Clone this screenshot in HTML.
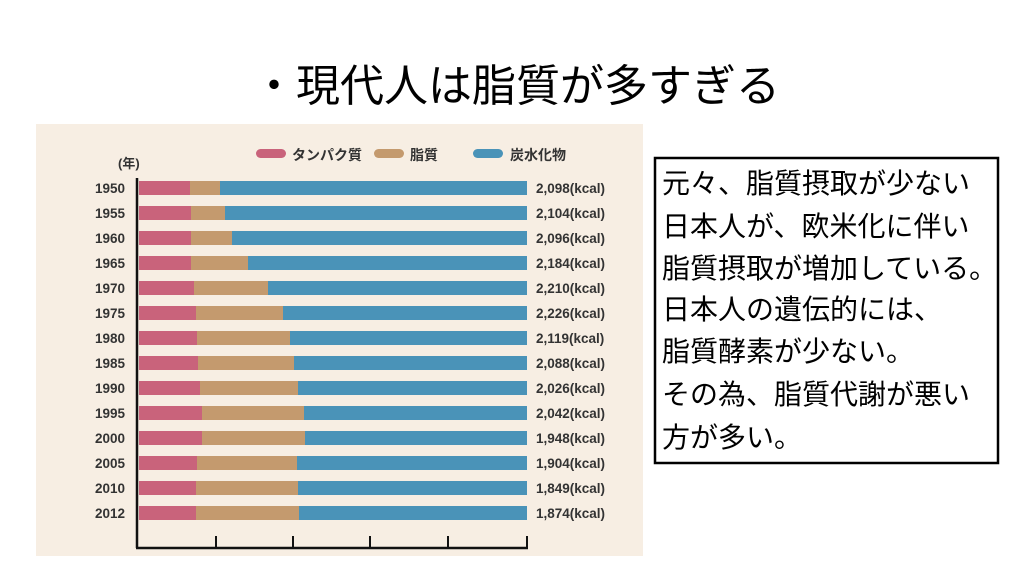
<!DOCTYPE html>
<html><head><meta charset="utf-8"><style>
body{margin:0;width:1024px;height:576px;background:#fff;overflow:hidden;font-family:"Liberation Sans","Noto Sans CJK JP",sans-serif}
</style></head><body>
<svg width="1024" height="576" xmlns="http://www.w3.org/2000/svg" style="position:absolute;left:0;top:0">
<text x="516" y="101" text-anchor="middle" font-size="44" font-family="Liberation Sans, Noto Sans CJK JP, sans-serif" fill="#000">・現代人は脂質が多すぎる</text>
<rect x="36" y="124" width="607" height="432" fill="#f7eee3"/>
<g font-family="Liberation Sans, Noto Sans CJK JP, sans-serif" font-weight="bold" fill="#333">
<rect x="256" y="149" width="30" height="9" rx="4.5" fill="#c9637b"/>
<text x="292" y="160" font-size="14">タンパク質</text>
<rect x="374" y="149" width="30" height="9" rx="4.5" fill="#c49a6e"/>
<text x="410" y="160" font-size="14">脂質</text>
<rect x="473" y="149" width="30" height="9" rx="4.5" fill="#4a93b8"/>
<text x="510" y="160" font-size="14">炭水化物</text>
<text x="118" y="168" font-size="13">(年)</text>
</g>
<g id="bars" font-family="Liberation Sans, sans-serif" font-weight="bold" font-size="13.5" fill="#333"></g>
<line x1="137" y1="178" x2="137" y2="548" stroke="#111" stroke-width="2.5"/>
<line x1="136" y1="548" x2="528" y2="548" stroke="#111" stroke-width="2.5"/>
<g stroke="#111" stroke-width="2">
<line x1="216" y1="536" x2="216" y2="548"/><line x1="293" y1="536" x2="293" y2="548"/>
<line x1="370" y1="536" x2="370" y2="548"/><line x1="448" y1="536" x2="448" y2="548"/>
<line x1="527" y1="536" x2="527" y2="548"/>
</g>
<rect x="655" y="158" width="343" height="305" fill="#fff" stroke="#000" stroke-width="2.5"/>
<g font-size="28" font-family="Liberation Sans, Noto Sans CJK JP, sans-serif" fill="#000">
<text x="662" y="193">元々、脂質摂取が少ない</text>
<text x="662" y="236">日本人が、欧米化に伴い</text>
<text x="662" y="278">脂質摂取が増加している。</text>
<text x="662" y="319">日本人の遺伝的には、</text>
<text x="662" y="361">脂質酵素が少ない。</text>
<text x="662" y="404">その為、脂質代謝が悪い</text>
<text x="662" y="447">方が多い。</text>
</g>
</svg>
<script>
var d=[["1950",190,220,"2,098"],["1955",191,225,"2,104"],["1960",191,232,"2,096"],["1965",191,248,"2,184"],["1970",194,268,"2,210"],["1975",196,283,"2,226"],["1980",197,290,"2,119"],["1985",198,294,"2,088"],["1990",200,298,"2,026"],["1995",202,304,"2,042"],["2000",202,305,"1,948"],["2005",197,297,"1,904"],["2010",196,298,"1,849"],["2012",196,299,"1,874"]];
var g=document.getElementById('bars'),s='';
d.forEach(function(r,i){var y=188+i*25;
s+='<rect x="139" y="'+(y-7)+'" width="'+(r[1]-139)+'" height="14" fill="#c9637b"/>';
s+='<rect x="'+r[1]+'" y="'+(y-7)+'" width="'+(r[2]-r[1])+'" height="14" fill="#c49a6e"/>';
s+='<rect x="'+r[2]+'" y="'+(y-7)+'" width="'+(527-r[2])+'" height="14" fill="#4a93b8"/>';
s+='<text x="125" y="'+(y+5)+'" text-anchor="end">'+r[0]+'</text>';
s+='<text x="536" y="'+(y+5)+'">'+r[3]+'(kcal)</text>';});
g.innerHTML=s;
</script>
</body></html>
